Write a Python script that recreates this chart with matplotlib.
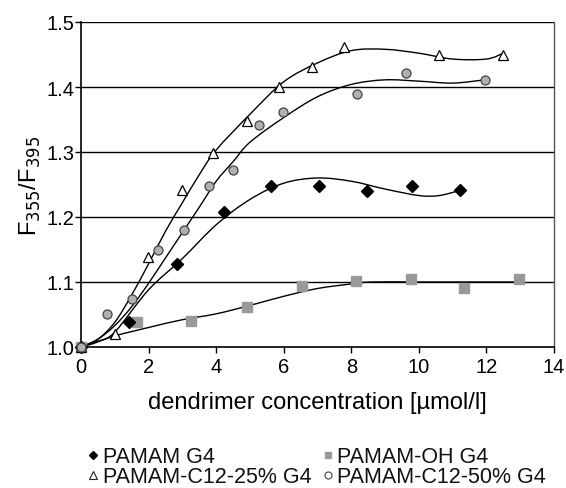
import numpy as np
import matplotlib
matplotlib.use("Agg")
import matplotlib.pyplot as plt
from matplotlib.lines import Line2D
from matplotlib.path import Path
from matplotlib.patches import PathPatch

plt.rcParams['font.family'] = ['Liberation Sans', 'DejaVu Sans']

g4_x = [0, 1.42, 2.83, 4.22, 5.63, 7.05, 8.47, 9.8, 11.22]
g4_y = [1.0, 1.039, 1.128, 1.208, 1.247, 1.248, 1.240, 1.248, 1.241]

oh_x = [0, 1.65, 3.27, 4.9, 6.55, 8.15, 9.77, 11.35, 12.95]
oh_y = [1.0, 1.039, 1.040, 1.062, 1.094, 1.102, 1.105, 1.091, 1.104]

c25_x = [0, 1.0, 1.97, 2.98, 3.92, 4.9, 5.87, 6.85, 7.79, 10.6, 12.5]
c25_y = [1.0, 1.020, 1.139, 1.242, 1.299, 1.348, 1.400, 1.431, 1.461, 1.449, 1.449]

c50_x = [0, 0.76, 1.51, 2.27, 3.04, 3.78, 4.51, 5.28, 5.99, 8.17, 9.62, 11.95]
c50_y = [1.0, 1.051, 1.074, 1.150, 1.180, 1.248, 1.273, 1.342, 1.361, 1.390, 1.421, 1.411]

# Trend curves (smoothed lines)
g4_tx = [0, 0.5, 1, 2, 3, 4, 5, 6, 7, 8, 9, 10, 10.6, 11.22]
g4_ty = [1.0, 1.008, 1.023, 1.088, 1.136, 1.188, 1.227, 1.252, 1.260, 1.255, 1.243, 1.233, 1.233, 1.241]

oh_tx = [0, 1, 2, 3, 4, 5, 6, 7, 8, 8.6, 10, 12, 12.95]
oh_ty = [1.0, 1.017, 1.030, 1.042, 1.051, 1.064, 1.078, 1.090, 1.097, 1.100, 1.100, 1.100, 1.100]

c25_tx = [0, 0.5, 1, 1.5, 2, 2.5, 3, 3.5, 4, 5, 6, 7, 8, 9, 10, 11, 12, 12.5]
c25_ty = [1.0, 1.012, 1.038, 1.080, 1.128, 1.178, 1.222, 1.265, 1.303, 1.358, 1.408, 1.437, 1.456, 1.458, 1.452, 1.443, 1.443, 1.452]

c50_tx = [0, 0.5, 1, 1.5, 2, 2.5, 3, 3.5, 4, 4.5, 5, 6, 7, 8, 9, 10, 11, 11.95]
c50_ty = [1.0, 1.012, 1.033, 1.062, 1.098, 1.137, 1.176, 1.215, 1.255, 1.285, 1.315, 1.353, 1.385, 1.404, 1.411, 1.409, 1.406, 1.411]

labels = ['PAMAM G4', 'PAMAM-OH G4', 'PAMAM-C12-25% G4', 'PAMAM-C12-50% G4']

W, H = 566, 489
fig = plt.figure(figsize=(W / 100, H / 100), dpi=100)
ax = fig.add_axes([81/W, 1-348/H, (554-81)/W, (348-23)/H])

FS = 14.5
FL = 17
FLEG = 15.5


def smooth_path(x, y):
    pts = np.column_stack([x, y]).astype(float)
    n = len(pts)
    verts = [pts[0]]
    codes = [Path.MOVETO]
    for i in range(n - 1):
        p0 = pts[i - 1] if i > 0 else pts[i]
        p1 = pts[i]
        p2 = pts[i + 1]
        p3 = pts[i + 2] if i + 2 < n else pts[i + 1]
        c1 = p1 + (p2 - p0) / 6.0
        c2 = p2 - (p3 - p1) / 6.0
        verts += [c1, c2, p2]
        codes += [Path.CURVE4] * 3
    return Path(verts, codes)


for tx, ty in [(g4_tx, g4_ty), (oh_tx, oh_ty), (c25_tx, c25_ty), (c50_tx, c50_ty)]:
    ax.add_patch(PathPatch(smooth_path(tx, ty), fc='none', ec='black', lw=1.0, zorder=2))

ax.plot(oh_x, oh_y, 's', color='#999999', ms=6.5, mec='#999999', ls='none', zorder=3, clip_on=False)
ax.plot(g4_x, g4_y, 'D', color='black', ms=6, mec='black', ls='none', zorder=3, clip_on=False)
ax.plot(c25_x, c25_y, '^', mfc='white', mec='black', ms=7.5, mew=0.9, ls='none', zorder=3, clip_on=False)
ax.plot(c50_x, c50_y, 'o', mfc='#b0b0b0', mec='#444444', ms=6.5, mew=0.9, ls='none', zorder=4, clip_on=False)

ax.set_xlim(0, 14)
ax.set_ylim(1.0, 1.5)
ax.set_xticks(range(0, 15, 2))
ax.set_yticks([1.0, 1.1, 1.2, 1.3, 1.4, 1.5])
ax.set_yticklabels(['1.0', '1.1', '1.2', '1.3', '1.4', '1.5'])
for yv in [1.1, 1.2, 1.3, 1.4, 1.5]:
    ax.axhline(yv, color='black', lw=1.0, zorder=1)
ax.tick_params(direction='out', length=4, width=1, labelsize=FS, colors='black')
ax.tick_params(axis='x', pad=3)
ax.tick_params(axis='y', pad=1)
for s in ['left', 'bottom']:
    ax.spines[s].set_linewidth(1.2)
ax.spines['top'].set_visible(False)
ax.spines['right'].set_color('#555555')
ax.spines['right'].set_linewidth(1.0)

ax.set_xlabel('dendrimer concentration [µmol/l]', fontsize=FL, labelpad=11)
ax.set_ylabel('F$_{355}$/F$_{395}$', fontsize=FL, labelpad=2)
ax.set_facecolor('white')

# Legend drawn manually in figure pixels
leg_styles = [
    dict(marker='D', color='black', mec='black', ms=4.5),
    dict(marker='s', color='#999999', mec='#999999', ms=5),
    dict(marker='^', mfc='white', mec='#222222', ms=5.5, mew=0.8),
    dict(marker='o', mfc='white', mec='#555555', ms=5, mew=0.9),
]
leg_pos = [(93, 337 - 9), (328, 337)]
col_marker = [93, 328]
col_text = [103, 337]
row_base = [463, 483]
for i, (lab, st) in enumerate(zip(labels, leg_styles)):
    r, c = i // 2, i % 2
    fig.add_artist(Line2D([col_marker[c] / W], [1 - (row_base[r] - 7) / H],
                          transform=fig.transFigure, ls='none', **st))
    fig.text(col_text[c] / W, 1 - row_base[r] / H, lab, fontsize=FLEG,
             ha='left', va='baseline', color='#111111')

fig.savefig('out.png', dpi=100, facecolor='white')
